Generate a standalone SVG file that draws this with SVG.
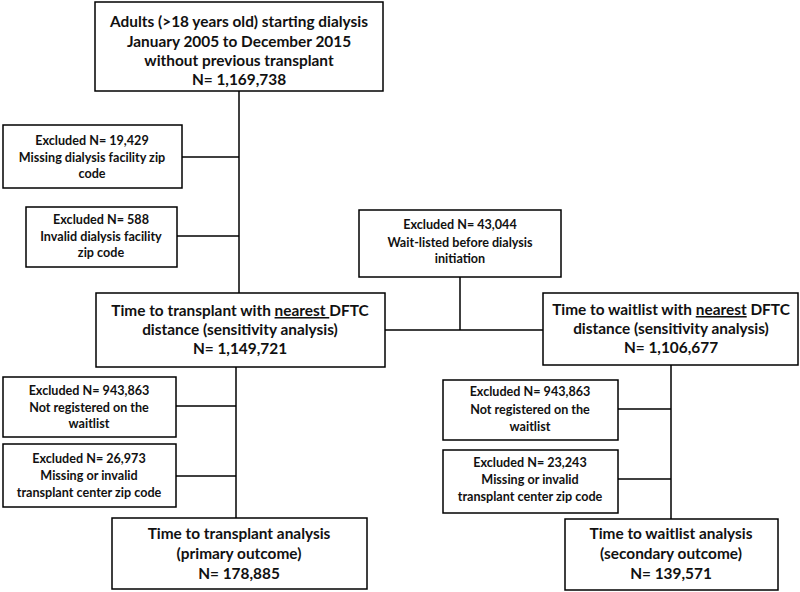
<svg xmlns="http://www.w3.org/2000/svg" width="800" height="592" viewBox="0 0 800 592">
<style>
.box{fill:#fff;stroke:#000;stroke-width:1.5}
.ln{stroke:#000;stroke-width:1.5;fill:none}
text{font-family:Lato,"Liberation Sans",sans-serif;font-weight:700;fill:#111;text-anchor:middle}
.b{font-size:15.4px}
.s{font-size:12.6px}
</style>
<rect width="800" height="592" fill="#fff"/>
<g id="connectors">
<path class="ln" d="M239 91V293"/>
<path class="ln" d="M182 157H239"/>
<path class="ln" d="M177 236H239"/>
<path class="ln" d="M460 277V330"/>
<path class="ln" d="M385 330H543"/>
<path class="ln" d="M236 367V518"/>
<path class="ln" d="M176 406H236"/>
<path class="ln" d="M176 476H236"/>
<path class="ln" d="M671 365V519"/>
<path class="ln" d="M618 409H671"/>
<path class="ln" d="M618 479H671"/>
</g>
<g id="start">
<rect class="box" x="95" y="2" width="288" height="89"/>
<text class="b" x="239" y="27">Adults (&gt;18 years old) starting dialysis</text>
<text class="b" x="239" y="47">January 2005 to December 2015</text>
<text class="b" x="239" y="66">without previous transplant</text>
<text class="b" x="239" y="85">N= 1,169,738</text>
</g>
<g id="excl1">
<rect class="box" x="3" y="125" width="179" height="63"/>
<text class="s" x="92" y="145">Excluded N= 19,429</text>
<text class="s" x="92" y="162">Missing dialysis facility zip</text>
<text class="s" x="92" y="178">code</text>
</g>
<g id="excl2">
<rect class="box" x="26" y="207" width="151" height="60"/>
<text class="s" x="101" y="224">Excluded N= 588</text>
<text class="s" x="101" y="241">Invalid dialysis facility</text>
<text class="s" x="101" y="257">zip code</text>
</g>
<g id="excl3">
<rect class="box" x="359" y="210" width="202" height="67"/>
<text class="s" x="460" y="229">Excluded N= 43,044</text>
<text class="s" x="460" y="247">Wait-listed before dialysis</text>
<text class="s" x="460" y="263">initiation</text>
</g>
<g id="txsens">
<rect class="box" x="96" y="293" width="289" height="74"/>
<text class="b" x="240" y="316">Time to transplant with <tspan text-decoration="underline">nearest </tspan>DFTC</text>
<text class="b" x="240" y="335">distance (sensitivity analysis)</text>
<text class="b" x="240" y="354">N= 1,149,721</text>
</g>
<g id="wlsens">
<rect class="box" x="543" y="293" width="255" height="72"/>
<text class="b" x="671" y="315">Time to waitlist with <tspan text-decoration="underline">nearest</tspan> DFTC</text>
<text class="b" x="671" y="334">distance (sensitivity analysis)</text>
<text class="b" x="671" y="353">N= 1,106,677</text>
</g>
<g id="excl4">
<rect class="box" x="3" y="377" width="173" height="60"/>
<text class="s" x="89" y="395">Excluded N= 943,863</text>
<text class="s" x="89" y="412">Not registered on the</text>
<text class="s" x="89" y="428">waitlist</text>
</g>
<g id="excl5">
<rect class="box" x="3" y="444" width="173" height="63"/>
<text class="s" x="89" y="463">Excluded N= 26,973</text>
<text class="s" x="89" y="480">Missing or invalid</text>
<text class="s" x="89" y="497">transplant center zip code</text>
</g>
<g id="excl6">
<rect class="box" x="443" y="380" width="175" height="60"/>
<text class="s" x="530" y="396">Excluded N= 943,863</text>
<text class="s" x="530" y="414">Not registered on the</text>
<text class="s" x="530" y="431">waitlist</text>
</g>
<g id="excl7">
<rect class="box" x="443" y="450" width="175" height="63"/>
<text class="s" x="530" y="467">Excluded N= 23,243</text>
<text class="s" x="530" y="484">Missing or invalid</text>
<text class="s" x="530" y="501">transplant center zip code</text>
</g>
<g id="txprimary">
<rect class="box" x="112" y="518" width="255" height="71"/>
<text class="b" x="239" y="539">Time to transplant analysis</text>
<text class="b" x="239" y="559">(primary outcome)</text>
<text class="b" x="239" y="579">N= 178,885</text>
</g>
<g id="wlsecondary">
<rect class="box" x="565" y="519" width="213" height="71"/>
<text class="b" x="671" y="539">Time to waitlist analysis</text>
<text class="b" x="671" y="559">(secondary outcome)</text>
<text class="b" x="671" y="579">N= 139,571</text>
</g>
</svg>
